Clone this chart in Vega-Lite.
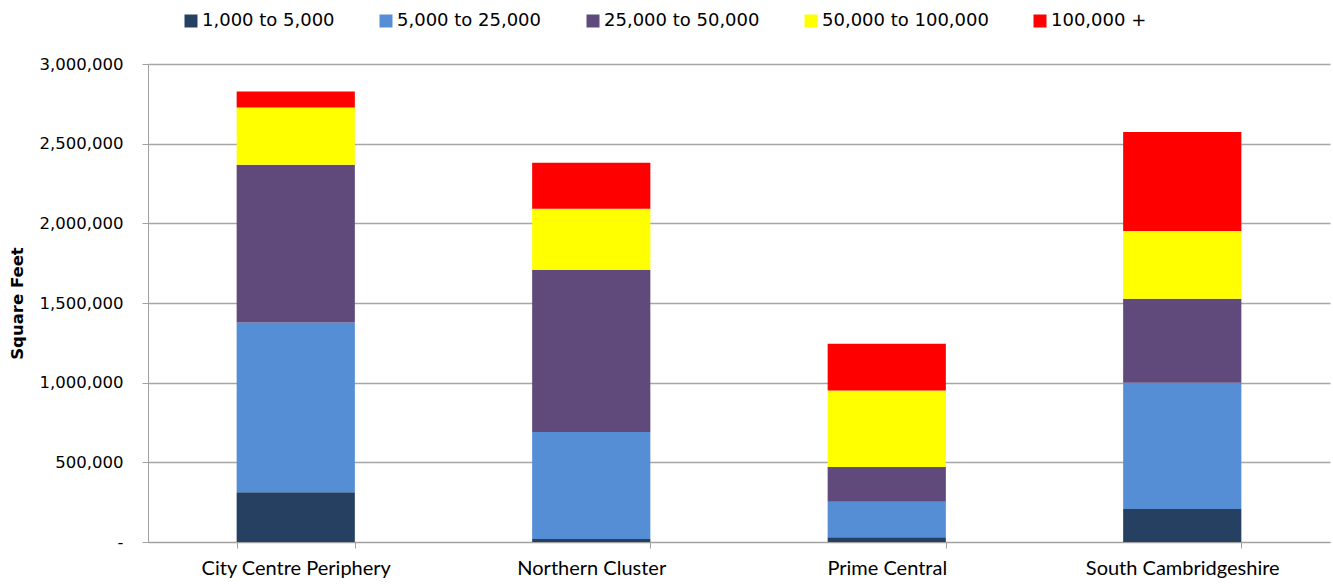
{
  "$schema": "https://vega.github.io/schema/vega-lite/v6.json",
  "width": 1182,
  "height": 478,
  "autosize": {"type": "none"},
  "padding": {"left": 148, "top": 64, "right": 3, "bottom": 42},
  "background": "white",
  "data": {
    "values": [
      {"area": "City Centre Periphery", "band": "1,000 to 5,000", "sqft": 312000},
      {"area": "City Centre Periphery", "band": "5,000 to 25,000", "sqft": 1066000},
      {"area": "City Centre Periphery", "band": "25,000 to 50,000", "sqft": 989000},
      {"area": "City Centre Periphery", "band": "50,000 to 100,000", "sqft": 360000},
      {"area": "City Centre Periphery", "band": "100,000 +", "sqft": 100000},
      {"area": "Northern Cluster", "band": "1,000 to 5,000", "sqft": 19000},
      {"area": "Northern Cluster", "band": "5,000 to 25,000", "sqft": 672000},
      {"area": "Northern Cluster", "band": "25,000 to 50,000", "sqft": 1018000},
      {"area": "Northern Cluster", "band": "50,000 to 100,000", "sqft": 383000},
      {"area": "Northern Cluster", "band": "100,000 +", "sqft": 289000},
      {"area": "Prime Central", "band": "1,000 to 5,000", "sqft": 30000},
      {"area": "Prime Central", "band": "5,000 to 25,000", "sqft": 223000},
      {"area": "Prime Central", "band": "25,000 to 50,000", "sqft": 218000},
      {"area": "Prime Central", "band": "50,000 to 100,000", "sqft": 480000},
      {"area": "Prime Central", "band": "100,000 +", "sqft": 293000},
      {"area": "South Cambridgeshire", "band": "1,000 to 5,000", "sqft": 207000},
      {"area": "South Cambridgeshire", "band": "5,000 to 25,000", "sqft": 792000},
      {"area": "South Cambridgeshire", "band": "25,000 to 50,000", "sqft": 528000},
      {"area": "South Cambridgeshire", "band": "50,000 to 100,000", "sqft": 425000},
      {"area": "South Cambridgeshire", "band": "100,000 +", "sqft": 622000}
    ]
  },
  "transform": [
    {"calculate": "indexof(['1,000 to 5,000','5,000 to 25,000','25,000 to 50,000','50,000 to 100,000','100,000 +'], datum.band)", "as": "stackOrder"}
  ],
  "mark": {"type": "bar", "strokeWidth": 0},
  "encoding": {
    "x": {
      "field": "area",
      "type": "nominal",
      "sort": null,
      "scale": {"paddingInner": 0.6, "paddingOuter": 0.3},
      "axis": {
        "title": null,
        "labelAngle": 0,
        "labelFont": "Lato",
        "labelFontSize": 20,
        "labelColor": "#000000",
        "labelPadding": 10,
        "labelLimit": 400,
        "tickBand": "extent",
        "tickSize": 6,
        "tickColor": "#a0a0a0",
        "domainColor": "#a0a0a0",
        "grid": false
      }
    },
    "y": {
      "field": "sqft",
      "type": "quantitative",
      "stack": "zero",
      "scale": {"domain": [0, 3000000], "nice": false},
      "axis": {
        "title": "Square Feet",
        "titleFont": "DejaVu Sans",
        "titleFontSize": 16.5,
        "titleFontWeight": "bold",
        "titleColor": "#000000",
        "titleX": -131,
        "titleY": 239,
        "titleAngle": -90,
        "titleAlign": "center",
        "titleBaseline": "middle",
        "values": [0, 500000, 1000000, 1500000, 2000000, 2500000, 3000000],
        "labelExpr": "datum.value == 0 ? '-\u00a0\u00a0\u00a0' : format(datum.value, ',')",
        "labelFont": "DejaVu Sans",
        "labelFontSize": 16.5,
        "labelColor": "#000000",
        "labelPadding": 19,
        "tickSize": 6,
        "tickColor": "#a0a0a0",
        "domainColor": "#a0a0a0",
        "grid": true,
        "gridColor": "#a6a6a6",
        "gridWidth": 1.5
      }
    },
    "color": {
      "field": "band",
      "type": "nominal",
      "scale": {
        "domain": ["1,000 to 5,000", "5,000 to 25,000", "25,000 to 50,000", "50,000 to 100,000", "100,000 +"],
        "range": ["#264061", "#558ED5", "#604A7B", "#FFFF00", "#FF0000"]
      },
      "legend": {
        "title": null,
        "orient": "none",
        "direction": "horizontal",
        "legendX": 34,
        "legendY": -52,
        "symbolType": "square",
        "symbolSize": 169,
        "symbolStrokeWidth": 0,
        "symbolOpacity": 1,
        "labelFont": "DejaVu Sans",
        "labelFontSize": 18,
        "labelColor": "#000000",
        "labelOffset": 2,
        "labelLimit": 400,
        "columnPadding": 42
      }
    },
    "order": {"field": "stackOrder", "type": "quantitative", "sort": "ascending"}
  },
  "config": {
    "view": {"stroke": null}
  }
}
